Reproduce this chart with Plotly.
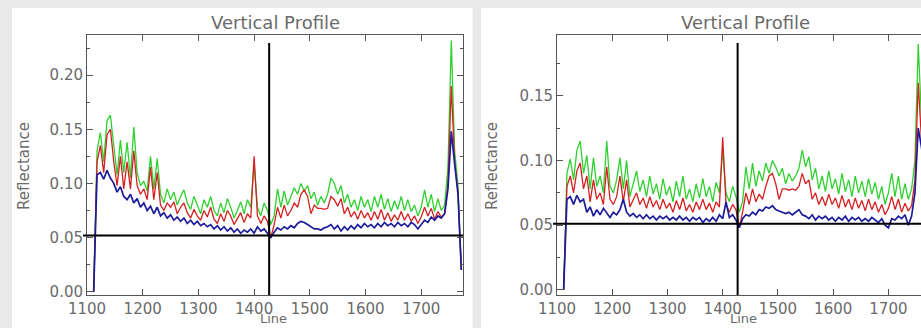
import plotly.graph_objects as go

W, H = 921, 328

# ---- data ----
lines = list(range(1112, 1778, 6))  # scan line index

green_left = [0.0, 0.13, 0.147, 0.12, 0.158, 0.163, 0.135, 0.108, 0.14, 0.11,
              0.138, 0.105, 0.152, 0.11, 0.098, 0.102, 0.093, 0.125, 0.095, 0.123,
              0.09, 0.082, 0.095, 0.085, 0.092, 0.08, 0.088, 0.094, 0.082, 0.076,
              0.088, 0.08, 0.072, 0.085, 0.078, 0.088, 0.075, 0.07, 0.082, 0.073,
              0.086, 0.078, 0.068, 0.075, 0.083, 0.072, 0.085, 0.078, 0.118, 0.078,
              0.07, 0.082, 0.075, 0.062, 0.07, 0.095, 0.078, 0.093, 0.08, 0.088,
              0.096, 0.09, 0.1, 0.093, 0.098, 0.086, 0.092, 0.08, 0.088, 0.082,
              0.09, 0.105, 0.1, 0.09, 0.098, 0.082, 0.09, 0.078, 0.085, 0.075,
              0.088, 0.078, 0.085, 0.074, 0.088, 0.078, 0.09, 0.076, 0.086, 0.074,
              0.084, 0.076, 0.088, 0.075, 0.085, 0.074, 0.08, 0.07, 0.078, 0.094,
              0.078, 0.09, 0.074, 0.086, 0.075, 0.08, 0.115, 0.232, 0.13, 0.098,
              0.02]
red_left = [0.0, 0.12, 0.135, 0.11, 0.145, 0.15, 0.12, 0.098, 0.125, 0.095,
            0.12, 0.095, 0.13, 0.098, 0.09, 0.095, 0.085, 0.115, 0.085, 0.11,
            0.08, 0.075, 0.082, 0.078, 0.083, 0.072, 0.078, 0.082, 0.073, 0.068,
            0.076, 0.07, 0.066, 0.075, 0.069, 0.078, 0.067, 0.063, 0.072, 0.065,
            0.075, 0.07, 0.062, 0.067, 0.073, 0.064, 0.072, 0.068, 0.125, 0.07,
            0.063, 0.07, 0.065, 0.05, 0.062, 0.078, 0.068, 0.08, 0.07, 0.075,
            0.082, 0.078, 0.09, 0.094, 0.088, 0.072, 0.08, 0.077, 0.077, 0.076,
            0.077, 0.088, 0.085, 0.079, 0.086, 0.072, 0.078, 0.069, 0.074, 0.067,
            0.075, 0.068, 0.073, 0.066, 0.074, 0.067, 0.076, 0.066, 0.073, 0.065,
            0.071, 0.066, 0.074, 0.066, 0.072, 0.065, 0.07, 0.063, 0.069, 0.078,
            0.07, 0.077, 0.067, 0.074, 0.069, 0.072, 0.1, 0.19, 0.12, 0.092,
            0.02]
blue_left = [0.0, 0.108, 0.11, 0.104, 0.112, 0.105, 0.1, 0.092, 0.097, 0.088,
             0.085, 0.09, 0.082, 0.086, 0.078, 0.082, 0.075, 0.079, 0.072, 0.078,
             0.07, 0.073, 0.068, 0.071, 0.066, 0.069, 0.065, 0.068, 0.063, 0.066,
             0.062, 0.065, 0.061, 0.063, 0.06, 0.062, 0.058, 0.061, 0.057, 0.06,
             0.056, 0.059, 0.055, 0.058, 0.054, 0.057, 0.055, 0.058, 0.054, 0.06,
             0.056, 0.058, 0.054, 0.05, 0.055, 0.059, 0.057, 0.06, 0.058, 0.061,
             0.059, 0.063, 0.065, 0.064, 0.062, 0.06, 0.058, 0.058, 0.057, 0.059,
             0.06, 0.062, 0.058, 0.061, 0.056, 0.06, 0.057, 0.061, 0.058, 0.062,
             0.059, 0.063, 0.06, 0.062, 0.059, 0.063, 0.06, 0.064, 0.061, 0.063,
             0.06, 0.064, 0.061, 0.063, 0.06, 0.064, 0.062, 0.058, 0.062, 0.066,
             0.064, 0.069, 0.066, 0.07, 0.068, 0.072, 0.095, 0.148, 0.118, 0.09,
             0.02]

green_right = [0.0, 0.09, 0.101, 0.085, 0.108, 0.115, 0.09, 0.104, 0.078, 0.102,
               0.08, 0.088, 0.075, 0.115, 0.08, 0.075, 0.085, 0.102, 0.078, 0.1,
               0.072, 0.082, 0.092, 0.076, 0.085, 0.072, 0.088, 0.074, 0.082, 0.07,
               0.086, 0.073, 0.08, 0.068, 0.084, 0.072, 0.088, 0.07, 0.078, 0.068,
               0.082, 0.071, 0.086, 0.072, 0.08, 0.068, 0.083, 0.075, 0.108, 0.075,
               0.068, 0.08, 0.072, 0.06, 0.068, 0.095, 0.078, 0.098, 0.08, 0.092,
               0.084, 0.098, 0.09, 0.1, 0.095, 0.088, 0.094, 0.082, 0.09, 0.084,
               0.088, 0.094, 0.108, 0.095, 0.103, 0.085, 0.094, 0.078, 0.088, 0.076,
               0.092, 0.078, 0.086, 0.074, 0.09, 0.076, 0.085, 0.072, 0.088, 0.075,
               0.084, 0.072, 0.086, 0.074, 0.083, 0.07, 0.08, 0.066, 0.075, 0.09,
               0.072, 0.088, 0.07, 0.082, 0.07, 0.078, 0.1, 0.19, 0.13, 0.095,
               0.02]
red_right = [0.0, 0.08, 0.088, 0.075, 0.092, 0.098, 0.078, 0.088, 0.068, 0.085,
             0.07, 0.075, 0.066, 0.095, 0.07, 0.066, 0.072, 0.088, 0.068, 0.085,
             0.064, 0.07, 0.075, 0.066, 0.071, 0.063, 0.072, 0.064, 0.069, 0.062,
             0.07, 0.063, 0.067, 0.06, 0.069, 0.062, 0.071, 0.061, 0.066, 0.06,
             0.068, 0.062, 0.07, 0.062, 0.067, 0.06, 0.068, 0.064, 0.118, 0.066,
             0.06, 0.066, 0.062, 0.048, 0.06, 0.075, 0.066, 0.078, 0.068, 0.074,
             0.07, 0.08, 0.088, 0.09, 0.082, 0.07, 0.078, 0.078, 0.077, 0.078,
             0.077, 0.08, 0.09, 0.082, 0.085, 0.07, 0.075, 0.066, 0.072, 0.065,
             0.074, 0.066, 0.071, 0.063, 0.073, 0.064, 0.07, 0.062, 0.071, 0.063,
             0.069, 0.061, 0.07, 0.062, 0.068, 0.06, 0.066, 0.058, 0.063, 0.072,
             0.062, 0.07, 0.06, 0.067, 0.061, 0.065, 0.085, 0.16, 0.115, 0.09,
             0.02]
blue_right = [0.0, 0.07, 0.072, 0.066, 0.073, 0.068, 0.07, 0.06, 0.064, 0.057,
              0.062, 0.058, 0.063, 0.059, 0.056, 0.06, 0.058, 0.062, 0.07, 0.06,
              0.057, 0.059, 0.056, 0.058, 0.055, 0.058, 0.055, 0.057, 0.054, 0.057,
              0.055, 0.057, 0.054, 0.056, 0.054, 0.057, 0.054, 0.056, 0.053, 0.056,
              0.054, 0.056, 0.052, 0.055, 0.053, 0.056, 0.053, 0.058, 0.055, 0.068,
              0.056, 0.058, 0.054, 0.048, 0.055, 0.058, 0.057, 0.06, 0.058, 0.062,
              0.061, 0.064, 0.063, 0.065, 0.062, 0.061, 0.06, 0.059, 0.06, 0.058,
              0.06, 0.062, 0.058, 0.057, 0.055, 0.058, 0.054, 0.057, 0.055, 0.057,
              0.054, 0.056, 0.053, 0.056, 0.054, 0.057, 0.053, 0.056, 0.054, 0.056,
              0.053, 0.055, 0.053, 0.056, 0.054, 0.052, 0.055, 0.05, 0.048, 0.055,
              0.054, 0.057, 0.055, 0.058, 0.05, 0.057, 0.075, 0.125, 0.11, 0.09,
              0.02]

cursor_line = 1427
cursor_value_left = 0.052
cursor_value_right = 0.051

x_ticks = [1100, 1200, 1300, 1400, 1500, 1600, 1700]
y_ticks_left = [0.0, 0.05, 0.10, 0.15, 0.20]
y_ticks_right = [0.0, 0.05, 0.10, 0.15]

for s in (green_left, red_left, blue_left, green_right, red_right, blue_right):
    assert len(s) == len(lines), (len(s), len(lines))

# ---- styling ----
GREEN = "#30d030"
RED = "#d42020"
BLUE = "#1c1c9a"
AX = "#555555"
TXT = "#6a6a6a"
FONT = "DejaVu Sans"
TICK_SIZE = 15

def px(x):
    return x / W

def py(y):
    return 1 - y / H

fig = go.Figure()
for xs, ys, col, wd, xa, ya in [
    (lines, green_left, GREEN, 1.3, "x", "y"),
    (lines, red_left, RED, 1.3, "x", "y"),
    (lines, blue_left, BLUE, 1.7, "x", "y"),
    (lines, green_right, GREEN, 1.3, "x2", "y2"),
    (lines, red_right, RED, 1.3, "x2", "y2"),
    (lines, blue_right, BLUE, 1.7, "x2", "y2"),
]:
    fig.add_trace(go.Scatter(x=xs, y=ys, mode="lines", xaxis=xa, yaxis=ya,
                             line=dict(color=col, width=wd), showlegend=False,
                             hoverinfo="skip"))

common_x = dict(tickmode="array", tickvals=x_ticks, ticks="inside", ticklen=6,
                tickcolor=AX, showline=True, linecolor=AX, linewidth=1,
                showgrid=False, zeroline=False, automargin=False,
                tickfont=dict(family=FONT, size=TICK_SIZE, color=TXT))
common_y = dict(ticks="inside", ticklen=6, tickcolor=AX, showline=True,
                linecolor=AX, linewidth=1, showgrid=False, zeroline=False,
                automargin=False, tickformat=".2f",
                tickfont=dict(family=FONT, size=TICK_SIZE, color=TXT),
                minor=dict(dtick=0.025, ticks="inside", ticklen=3, tickcolor=AX))

ydom = [py(295), py(35)]
fig.update_layout(
    width=W, height=H, margin=dict(l=0, r=0, t=0, b=0, pad=0),
    paper_bgcolor="#e9e9e9", plot_bgcolor="white",
    xaxis=dict(domain=[px(87), px(463)], range=[1100, 1775], mirror="ticks",
               anchor="y", **common_x),
    yaxis=dict(domain=ydom, range=[-0.003, 0.237], mirror="ticks", anchor="x",
               tickvals=y_ticks_left, **common_y),
    xaxis2=dict(domain=[px(557), 1.0], range=[1100, 1759], mirror="ticks",
                anchor="y2", **common_x),
    yaxis2=dict(domain=ydom, range=[-0.004, 0.197], mirror=False, anchor="x2",
                tickvals=y_ticks_right, **common_y),
)

shapes = [
    dict(type="rect", xref="paper", yref="paper", x0=px(12), x1=px(472.5),
         y0=0, y1=py(8), fillcolor="white", line=dict(width=0), layer="below"),
    dict(type="rect", xref="paper", yref="paper", x0=px(481), x1=1,
         y0=0, y1=py(8), fillcolor="white", line=dict(width=0), layer="below"),
    dict(type="line", xref="x", yref="paper", x0=cursor_line, x1=cursor_line,
         y0=ydom[0], y1=py(43), line=dict(color="black", width=2)),
    dict(type="line", xref="paper", yref="y", x0=px(83), x1=px(463),
         y0=cursor_value_left, y1=cursor_value_left, line=dict(color="black", width=2)),
    dict(type="line", xref="x2", yref="paper", x0=cursor_line, x1=cursor_line,
         y0=ydom[0], y1=py(43), line=dict(color="black", width=2)),
    dict(type="line", xref="paper", yref="y2", x0=px(553), x1=1,
         y0=cursor_value_right, y1=cursor_value_right, line=dict(color="black", width=2)),
]
fig.update_layout(shapes=shapes)

anns = []
for cx, lx in [(275, 24), (745, 492)]:
    anns.append(dict(text="Vertical Profile", xref="paper", yref="paper",
                     x=px(cx), y=py(23), xanchor="center", yanchor="middle",
                     showarrow=False, font=dict(family=FONT, size=18, color=TXT)))
    anns.append(dict(text="Line", xref="paper", yref="paper",
                     x=px(cx - 2), y=0, xanchor="center", yanchor="bottom",
                     showarrow=False, font=dict(family=FONT, size=13, color=TXT)))
    anns.append(dict(text="Reflectance", xref="paper", yref="paper",
                     x=px(lx), y=py(166), xanchor="center", yanchor="middle",
                     textangle=-90, showarrow=False,
                     font=dict(family=FONT, size=15, color=TXT)))
fig.update_layout(annotations=anns)

fig.write_html("out.html",
               post_script="document.body.style.margin='0';"
                           "document.body.style.overflow='hidden';")
